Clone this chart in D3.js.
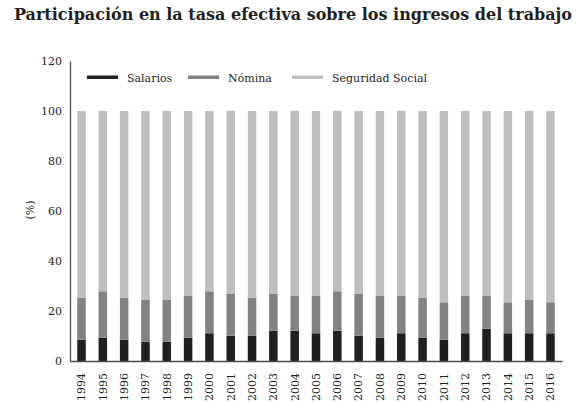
<!DOCTYPE html>
<html><head><meta charset="utf-8">
<script src="https://cdn.jsdelivr.net/npm/d3@7"></script>
<style>body{margin:0;background:#fff}svg{display:block}</style>
</head><body>
<script>
const years = ["1994","1995","1996","1997","1998","1999","2000","2001","2002","2003","2004","2005","2006","2007","2008","2009","2010","2011","2012","2013","2014","2015","2016"];
const salarios = [8.5,9.3,8.5,7.7,7.7,9.3,11.1,10.1,10.1,12.1,12.1,11.1,12.1,10.1,9.3,11.1,9.3,8.5,11.1,12.9,11.1,11.1,11.1];
const nomina = [16.8,18.6,16.8,16.7,16.7,16.7,16.8,16.7,15.2,14.7,13.9,14.9,15.8,16.7,16.7,14.9,15.9,15.0,14.9,13.1,12.4,13.3,12.4];
const seguridad = [74.7,72.1,74.7,75.6,75.6,74.0,72.1,73.2,74.7,73.2,74.0,74.0,72.1,73.2,74.0,74.0,74.8,76.5,74.0,74.0,76.5,75.6,76.5];
const seriesNames = ["Salarios","Nómina","Seguridad Social"];
const yTicks = [0,20,40,60,80,100,120];
const colors = ["#231f20","#808285","#bcbec0"];

const W = 584, H = 402;
const svg = d3.select("body").append("svg").attr("width", W).attr("height", H);
const font = "'DejaVu Serif', serif";

const x = d3.scaleBand().domain(years).range([70, 562]).paddingInner(0.6).paddingOuter(0.34);
const y = d3.scaleLinear().domain([0,120]).range([361, 61]);

const rows = years.map((yr,i)=>({year:yr, "Salarios":salarios[i], "Nómina":nomina[i], "Seguridad Social":seguridad[i]}));
const stack = d3.stack().keys(seriesNames)(rows);

svg.append("g").selectAll("g").data(stack).join("g")
  .attr("fill", (d,i)=>colors[i])
  .selectAll("rect").data(d=>d).join("rect")
  .attr("x", d=>x(d.data.year))
  .attr("width", x.bandwidth())
  .attr("y", d=>y(d[1]))
  .attr("height", d=>y(d[0])-y(d[1]));

// Title
svg.append("text").attr("x", 293).attr("y", 20).attr("text-anchor","middle")
  .attr("font-family", font).attr("font-weight","bold").attr("font-size", 16)
  .attr("fill","#231f20")
  .text("Participación en la tasa efectiva sobre los ingresos del trabajo");

// Y axis
const yAxis = svg.append("g").attr("transform","translate(70,0)")
  .call(d3.axisLeft(y).tickValues(yTicks).tickSize(0).tickPadding(8));
yAxis.select(".domain").attr("stroke","#4d4d4d").attr("stroke-width",1.3);
yAxis.selectAll("text").attr("font-family", font).attr("font-size", 11).attr("fill","#231f20");

// X axis
const xAxis = svg.append("g").attr("transform","translate(0,361)")
  .call(d3.axisBottom(x).tickSize(0).tickPadding(0));
xAxis.select(".domain").attr("stroke","#4d4d4d").attr("stroke-width",1.3);
xAxis.selectAll("text")
  .attr("font-family", font).attr("font-size", 11).attr("fill","#231f20")
  .attr("text-anchor","end").attr("dy","0.35em")
  .attr("transform","translate(0,12) rotate(-90)")
  .attr("x",0).attr("y",0);

// Y label
svg.append("text").attr("transform","translate(34,210) rotate(-90)")
  .attr("text-anchor","middle").attr("font-family", font).attr("font-size", 11)
  .attr("fill","#231f20").text("(%)");

// Legend
const legX = [87, 188, 292];
const leg = svg.append("g").selectAll("g").data(seriesNames).join("g")
  .attr("transform",(d,i)=>`translate(${legX[i]},0)`);
leg.append("rect").attr("x",0).attr("y",75.5).attr("width",31).attr("height",3.5).attr("fill",(d,i)=>colors[i]);
leg.append("text").attr("x",40).attr("y",81.5).attr("font-family",font).attr("font-size",11)
  .attr("fill","#231f20").text(d=>d);
</script>
</body></html>
